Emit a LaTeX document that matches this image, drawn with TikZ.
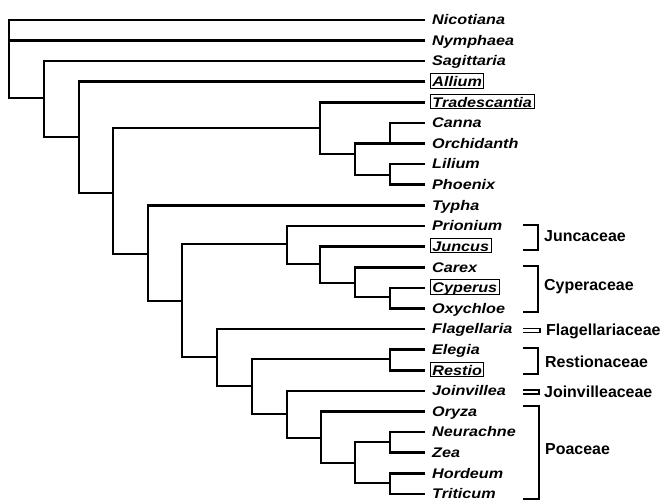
\documentclass[tikz,border=0pt]{standalone}
\usepackage{fontspec}
\setmainfont{Liberation Sans}
\newfontfamily\leaffont{Liberation Sans}[FakeStretch=1.16]
\tikzset{
  br/.style={line width=2.6bp, line cap=rect, line join=miter},
  leaf/.style={anchor=base west, inner sep=0pt, font=\leaffont\bfseries\itshape\fontsize{14}{15}\selectfont},
  boxed/.style={leaf, draw, line width=0.9bp, inner xsep=2bp, inner ysep=0pt, text height=13bp, text depth=1.5bp, xshift=-2bp},
  fam/.style={anchor=base west, inner sep=0pt, font=\bfseries\fontsize{16}{18}\selectfont},
  brk/.style={line width=1.3bp},
}
\begin{document}
\begin{tikzpicture}[x=1bp,y=-1bp]
\useasboundingbox (0,0) rectangle (662,501);
% leaves
\foreach \n/\lab/\i/\st in {
  nic/Nicotiana/0/leaf, nym/Nymphaea/1/leaf, sag/Sagittaria/2/leaf,
  all/{Allium\hspace{6bp}}/3/boxed, tra/Tradescantia/4/boxed,
  can/Canna/5/leaf, orc/Orchidanth/6/leaf, lil/Lilium/7/leaf, pho/Phoenix/8/leaf,
  typ/Typha/9/leaf, pri/Prionium/10/leaf, jun/Juncus/11/boxed,
  car/Carex/12/leaf, cyp/Cyperus/13/boxed, oxy/Oxychloe/14/leaf,
  fla/Flagellaria/15/leaf, ele/Elegia/16/leaf, res/Restio/17/boxed,
  joi/Joinvillea/18/leaf, ory/Oryza/19/leaf, neu/Neurachne/20/leaf,
  zea/Zea/21/leaf, hor/Hordeum/22/leaf, tri/Triticum/23/leaf}
{
  \coordinate (t\n) at (424,{20+20.6*\i});
  \node[\st] (\n) at (432,{24.8+20.6*\i}) {\lab};
}
% internal nodes
\coordinate (root) at (9,98);
\coordinate (A) at (44,98);
\coordinate (B) at (79,137);
\coordinate (C) at (113,193);
\coordinate (D) at (320,128);
\coordinate (E) at (355,154);
\coordinate (CO) at (390,143.6);
\coordinate (LP) at (390,175);
\coordinate (F) at (148,254);
\coordinate (G) at (182,301);
\coordinate (H) at (287,244);
\coordinate (I) at (320,264);
\coordinate (J) at (355,283);
\coordinate (CyO) at (390,297);
\coordinate (K) at (217,357);
\coordinate (L) at (252,386);
\coordinate (ER) at (390,359);
\coordinate (M) at (287,414);
\coordinate (N) at (321,438);
\coordinate (O) at (355,463);
\coordinate (NZ) at (390,442);
\coordinate (HT) at (390,483);
% branches
\foreach \p/\c in {root/tnic, root/tnym, root/A, A/tsag, A/B, B/tall, B/C,
  C/D, C/F, D/ttra, D/E, E/CO, E/LP, CO/tcan, CO/torc, LP/tlil, LP/tpho,
  F/ttyp, F/G, G/H, G/K, H/tpri, H/I, I/tjun, I/J, J/tcar, J/CyO,
  CyO/tcyp, CyO/toxy, K/tfla, K/L, L/ER, L/M, ER/tele, ER/tres,
  M/tjoi, M/N, N/tory, N/O, O/NZ, O/HT, NZ/tneu, NZ/tzea, HT/thor, HT/ttri}
  \draw[br] (\p) |- (\c);
% families
\node[fam] (fjun) at (544,241.5) {Juncaceae};
\node[fam] (fcyp) at (544,290.5) {Cyperaceae};
\node[fam] (ffla) at (546,335.5) {Flagellariaceae};
\node[fam] (fres) at (545,367.5) {Restionaceae};
\node[fam] (fjoi) at (544,397) {Joinvilleaceae};
\node[fam] (fpoa) at (545,454) {Poaceae};
\draw[brk] (523,225) -- (538,225) -- (538,250) -- (523,250);
\draw[brk] (523,266) -- (538,266) -- (538,312) -- (523,312);
\draw[brk] (523,328.3) -- (540,328.3) -- (540,332.3) -- (523,332.3);
\draw[brk] (523,348) -- (538,348) -- (538,374) -- (523,374);
\draw[brk] (523,390) -- (539,390) -- (539,394) -- (523,394);
\draw[brk] (523,406) -- (539,406) -- (539,499) -- (523,499);
\end{tikzpicture}
\end{document}
